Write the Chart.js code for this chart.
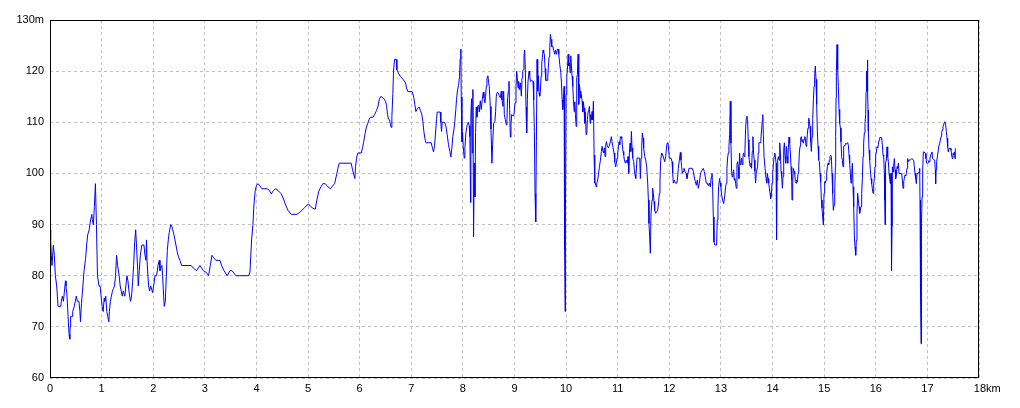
<!DOCTYPE html>
<html>
<head>
<meta charset="utf-8">
<script src="https://cdn.jsdelivr.net/npm/chart.js@4/dist/chart.umd.min.js"></script>
<style>
html,body{margin:0;padding:0;background:#fff;}
#wrap{width:1020px;height:408px;}
</style>
</head>
<body>
<div id="wrap"><canvas id="c" width="1020" height="408"></canvas></div>
<script>
// distance along route (km)
const distKm = [
0,0.013,0.026,0.039,0.065,0.084,0.104,0.13,0.143,0.156,0.208,0.22,0.24,0.26,0.28,0.30,0.31,0.33,0.35,0.37,0.383,0.39,0.40,0.43,0.44,0.47,0.51,0.53,0.56,0.58,0.59,0.61,0.63,0.66,0.69,0.71,0.73,0.76,0.78,0.81,0.82,0.84,0.86,0.88,0.90,0.92,0.95,0.97,0.99,1.01,1.03,1.05,1.06,1.08,1.10,1.12,1.14,1.15,1.17,1.19,1.21,1.23,1.25,1.27,1.29,1.31,1.34,1.36,1.38,1.40,1.42,1.45,1.47,1.49,1.51,1.53,1.56,1.58,1.60,1.62,1.64,1.66,1.68,1.70,1.71,1.73,1.75,1.78,1.82,1.84,1.86,1.87,1.88,1.91,1.93,1.95,
1.969,1.988,2.014,2.034,2.066,2.092,2.118,2.131,2.150,2.169,2.182,2.202,2.214,2.234,2.253,2.273,2.292,2.311,2.337,2.357,2.376,2.402,2.421,2.440,2.466,2.492,2.518,2.550,2.737,2.776,2.841,2.905,2.970,3.034,3.073,3.105,3.138,3.164,3.215,3.293,3.325,3.370,3.435,3.486,3.525,3.564,3.602,3.848,3.874,3.887,3.906,
3.932,3.951,3.977,4.003,4.029,4.055,4.106,4.209,4.248,4.287,4.332,4.377,4.416,4.481,4.526,4.558,4.610,4.674,4.784,4.829,4.881,4.933,4.978,5.010,5.042,5.094,5.139,5.171,5.204,5.249,5.288,5.333,5.384,5.430,5.514,5.559,5.578,5.604,5.836,5.862,5.888,5.907,
5.920,5.940,5.965,6.030,6.056,6.075,6.101,6.127,6.153,6.185,6.211,6.262,6.288,6.327,6.353,6.379,6.404,6.443,6.469,6.501,6.521,6.540,6.559,6.579,6.598,6.611,6.624,6.643,6.656,6.676,6.708,6.721,6.747,6.792,6.843,6.889,6.908,6.934,7.018,7.050,7.069,7.089,7.115,7.153,7.179,7.205,7.224,7.244,7.263,7.282,7.386,7.412,7.431,7.450,7.470,7.489,7.502,7.560,7.573,7.586,7.599,7.644,7.670,7.696,7.721,7.747,7.767,7.786,7.805,7.825,7.844,7.863,7.876,
7.896,7.916,7.935,7.948,7.961,7.968,7.981,7.994,8.006,8.026,8.039,8.058,8.084,8.104,8.123,8.136,8.149,8.155,8.168,8.181,8.194,8.207,8.220,8.233,8.246,8.259,8.272,8.285,8.304,8.317,8.337,8.356,8.375,8.395,8.408,8.427,8.440,8.453,8.466,8.485,8.498,8.511,8.531,8.544,8.563,8.576,8.595,8.621,8.634,8.647,8.667,8.686,8.706,8.725,8.744,8.757,8.777,8.790,8.803,8.822,8.841,8.854,8.867,8.880,8.893,8.906,8.919,8.932,8.945,8.971,8.990,9.010,9.029,9.042,9.055,9.068,9.081,9.094,9.113,9.133,9.146,9.159,9.172,9.184,9.197,9.210,9.223,9.236,9.249,9.262,9.282,9.294,9.307,9.333,9.359,9.372,9.385,9.398,9.411,9.424,9.437,9.450,9.463,9.476,9.489,9.502,9.515,9.528,9.540,9.553,9.566,9.579,9.592,9.605,9.631,9.644,9.657,9.670,9.683,9.696,9.709,9.722,9.741,9.761,9.780,9.793,9.812,9.832,9.845,
9.858,9.877,9.897,9.910,9.923,9.935,9.948,9.961,9.968,9.974,9.981,9.987,10.0,10.013,10.026,10.039,10.052,10.065,10.077,10.090,10.103,10.116,10.129,10.142,10.155,10.168,10.181,10.194,10.206,10.219,10.232,10.245,10.258,10.271,10.284,10.297,10.310,10.323,10.335,10.348,10.361,10.374,10.387,10.400,10.413,10.426,10.439,10.452,10.465,10.477,10.490,10.503,10.516,10.529,10.542,10.555,10.568,10.581,10.594,10.606,10.626,10.645,10.665,10.684,10.697,10.716,10.729,10.742,10.755,10.768,10.781,10.800,10.819,10.839,10.858,10.877,10.890,10.910,10.929,10.942,10.961,10.974,10.987,11.000,11.013,11.026,11.039,11.052,11.065,11.077,11.090,11.103,11.116,11.129,11.148,11.168,11.187,11.200,11.213,11.226,11.239,11.252,11.265,11.277,11.290,11.310,11.323,11.335,11.348,11.361,11.374,11.426,11.439,11.452,11.465,11.477,11.490,11.503,11.523,11.542,11.561,11.581,11.594,11.606,11.619,11.632,11.645,11.665,11.677,11.690,11.703,11.716,11.735,11.755,11.774,11.794,11.806,11.819,
11.832,11.852,11.871,11.890,11.910,11.929,11.942,11.955,11.974,11.987,12.0,12.032,12.052,12.065,12.077,12.097,12.116,12.148,12.161,12.174,12.194,12.213,12.226,12.239,12.252,12.265,12.284,12.303,12.323,12.342,12.361,12.381,12.445,12.465,12.484,12.503,12.523,12.542,12.561,12.581,12.600,12.619,12.639,12.658,12.677,12.697,12.716,12.735,12.755,12.774,12.794,12.813,12.826,12.839,12.852,12.865,12.884,12.916,12.929,12.942,12.955,12.974,12.987,13.0,13.013,13.032,13.052,13.071,13.090,13.103,13.116,13.129,13.142,13.155,13.168,13.181,13.194,13.206,13.219,13.232,13.245,13.258,13.271,13.284,13.297,13.310,13.323,13.335,13.348,13.361,13.374,13.387,13.400,13.413,13.426,13.439,13.452,13.465,13.477,13.490,13.503,13.516,13.529,13.542,13.555,13.568,13.581,13.594,13.606,13.619,13.632,13.645,13.658,13.671,13.684,13.697,13.710,13.723,13.735,13.761,13.774,13.787,13.800,13.810,
13.822,13.835,13.855,13.874,13.887,13.900,13.913,13.926,13.938,13.951,13.964,13.977,13.990,14.003,14.016,14.029,14.042,14.055,14.068,14.074,14.081,14.087,14.100,14.113,14.126,14.139,14.152,14.164,14.177,14.190,14.203,14.216,14.229,14.242,14.255,14.268,14.281,14.294,14.306,14.319,14.332,14.345,14.358,14.371,14.377,14.390,14.403,14.416,14.429,14.442,14.455,14.468,14.481,14.494,14.507,14.519,14.532,14.545,14.558,14.571,14.584,14.597,14.610,14.623,14.636,14.649,14.662,14.674,14.687,14.700,14.713,14.726,14.739,14.752,14.765,14.778,14.791,14.804,14.816,14.829,14.842,14.855,14.868,14.881,14.894,14.907,14.920,14.933,14.946,14.958,14.971,14.984,14.997,15.010,15.023,15.036,15.049,15.062,15.075,15.088,15.101,15.113,15.126,15.139,15.152,15.165,15.178,15.191,15.204,15.217,15.223,15.230,15.236,15.249,15.262,15.275,15.288,15.301,15.314,15.326,15.339,15.352,15.365,15.378,15.391,15.404,15.417,15.430,15.443,15.456,15.469,15.482,15.494,15.507,15.520,15.533,15.546,15.559,15.572,15.585,15.598,15.611,15.623,15.636,15.649,15.662,15.675,15.688,15.701,15.714,15.727,15.740,15.753,15.765,15.778,15.791,15.804,
15.812,15.820,15.830,15.838,15.845,15.850,15.856,15.869,15.882,15.895,15.908,15.921,15.934,15.947,15.960,15.972,15.985,15.998,16.011,16.024,16.037,16.050,16.063,16.076,16.114,16.127,16.140,16.153,16.166,16.173,16.179,16.186,16.192,16.205,16.218,16.231,16.244,16.257,16.270,16.282,16.295,16.302,16.308,16.315,16.321,16.334,16.347,16.360,16.373,16.386,16.399,16.412,16.425,16.438,16.451,16.502,16.515,16.528,16.541,16.554,16.567,16.580,16.592,16.605,16.618,16.631,16.644,16.670,16.696,16.734,16.747,16.760,16.773,16.786,16.799,16.825,16.838,16.851,16.857,16.864,16.870,16.877,16.883,16.890,16.896,16.909,16.922,16.935,16.948,16.960,16.973,16.986,16.999,17.012,17.025,17.038,17.050,17.063,17.076,17.089,17.102,17.141,17.154,17.160,17.167,17.173,17.186,17.199,17.212,17.225,17.238,17.251,17.264,17.277,17.290,17.302,17.315,17.328,17.341,17.354,17.367,17.380,17.393,17.406,17.419,17.444,17.457,17.470,17.483,17.496,17.509,17.522,17.535,17.541
];
// elevation (m)
const elevM = [
89,87,84,82,86,84,80,78,76,74,74,75,76,75,77,79,78,76,72,68.5,67.6,70,72,72,73,74,76,75,75,73,71,74.6,77,81,83.4,86,88,89,90.5,92,91,90,93.5,98,90,80,78,78,76,74,73,75.6,75,76,73,72,71,73,75,76,77,77.5,78,80,84,82,80,78,77,76,77,76,78,80,79,77,75,76,78.6,82,86.5,89,85,81,78,81,84,86,86,84,83,87,83,78,77,78,
77.4,76.7,78.4,80,80,82,83,81,81.6,82,80,76,74,75,79.7,85,87,88.5,90,89.8,89,88,87,86,84.6,83.6,83,82,82,81.5,81,82,81,80.6,80,82,84,83.6,83,83,82,81,80,81,81,80.5,80,80,80.7,83.3,87,
90,93.8,96.7,97.7,98,97.7,97,97,96.7,96,96.7,97,96.7,96,95,94,92.8,92,92,92.3,92.8,93.3,93.8,94,93.6,93.2,93,94.8,96.4,97.4,98,98,97.4,97,98,100,101,102,102,100.7,99.7,99,
101.3,103,104,104,105,106,107.6,108.9,109.7,110.6,111,111,111.5,112.3,113,114.4,115,114.9,114.6,114.1,113.3,111.5,110.6,110.5,109.5,109,111,115.6,120,122.3,122.3,120.3,119.7,118.9,118.4,117.7,116.7,116,116,114.8,113.5,112.1,112.6,113,112.3,111.5,110.2,108.2,106.9,106,106,104.9,104.2,105.3,107.9,110.5,112,112,110,108.2,110,110,109.3,107.6,105.6,104.3,103.2,105,107.2,108.5,110.2,112.5,114.4,
116.3,117.2,119,122.4,124.3,115,106.2,108,105.3,103,105,107.9,109.5,110,109.3,107.2,94.3,111.5,114.6,104,116.4,87.6,102,95.4,108,113,111,113.1,113.4,112,114.2,112.5,114.4,115.9,114.8,113.8,115,117,118.5,119.1,117.8,117,113.1,108.7,102,105.6,109.8,110.2,112.1,115.1,115.9,115.7,115.2,114.8,116.1,114.4,113.1,116.1,111.5,110.5,109.5,110.5,114.8,116.1,118,112.5,107.1,109.5,111.5,111.3,111.5,113.8,117,120,118.7,116.7,118,116.4,117.7,115.1,118.7,120,120.3,123,124.1,120.3,113,107.9,114.4,118,120,119.3,118,118.2,118,114.4,108.2,96.1,90.5,106.2,122.3,116.1,119.1,115.7,115.1,116.1,119,121.6,122.6,124.1,123.6,123.3,120.5,118.2,118.2,118.7,121,122.8,124.6,127.2,126.2,124.8,124.8,124,123.3,124.1,123.3,124.3,124.3,
123.3,121.3,119.7,117.7,114.4,112.5,114.4,117,94.8,85,73,92.5,115.4,119,120.3,123.3,121,121.6,119.7,123,121,119,117,114.4,112.1,114,111.5,109.2,118.7,119.3,123.3,113.5,117.4,116.1,114.8,115.4,114.1,112,114,112.8,109.8,112,107.6,107.9,110.5,112.1,112.5,113.1,109.8,111.5,110.5,112.1,110.5,114.1,103.6,98.1,98.1,97.4,98.1,98.4,99.7,101.3,102.6,104.3,105.3,104.3,104,105,103.3,105.6,106.2,105.3,105,105.5,106.2,107.2,106.2,105,104,102.3,101.3,102,103,104,105,106.2,105.6,107.2,106.9,107.2,105.6,104.3,103.6,102.6,102,102.6,102,103.3,100,104,105.9,104.3,108.2,105,103,102.3,100.7,99.7,99,100.7,103,103,99,103,105.3,107.9,106.9,105,103.3,102.6,101.3,98.1,94.8,90.2,87.6,84.4,92.2,94.8,97.1,96.1,94.5,92.8,92.2,92.5,92.8,94.5,96.1,98.7,
102.6,104,103.6,103,102.3,103.3,104.6,105.9,106,104.6,103,103,102.3,100,98.1,98.7,98.1,98.1,99.3,101,102.6,104.1,102.6,101.3,100,100.4,101,100.4,100,99,100,101,101,100.4,99.3,98.4,97.7,98.7,97.1,98.1,99.7,100.4,100.7,101,100.4,99.3,98.1,98.1,97.6,98.1,97.4,99.3,100,97.4,91.5,86.6,86,86,90.9,93.5,97.4,99,98.1,97.4,95.8,94.8,94.1,95.4,97.4,98.1,101,103,104,105.3,107.6,114.1,105.9,100.4,99.3,100,100.7,98.7,99,98.1,97.1,101.7,102.3,101.3,99,104,101.7,102,103,101.7,103.3,104,103.3,104.6,108.5,110.8,111.2,110.5,106.6,103.3,102,101.3,102,101,104.3,107.2,104,102.6,100.4,98.1,100,100,101.3,104,106,106,106.9,108.5,110.2,111.5,
107.6,103.3,101,99,98.1,100,99,98.1,97.1,96.1,95.1,95.8,98.1,100,101.7,103.3,104,103.3,102,95.4,87,98.7,102.6,103.3,102.6,106,104,100.4,99.4,97.1,99.4,104.6,106,103.3,102,105.3,103.3,102,105,107.1,105.9,104,101.3,98.7,94.8,98.1,101,100.4,100,98.4,98.1,98.7,98.4,100,101.3,104,105.3,106.9,107.2,106.2,106.6,105.9,106.7,107.2,106.9,105.3,105.9,107.6,108.9,110.8,110.2,109.2,106.2,104.3,107.2,110.5,114.4,117,119,121,118.4,113.5,108.2,105.3,102.6,102.3,100,98.4,94.8,93.2,91.5,89.9,96.1,98.4,98.1,98.7,100,101.3,102,101.7,102.6,103.3,103.6,103.3,100,96.1,92.8,93.8,96.1,101.3,107.2,114.8,119.7,125.2,120.3,117,112.5,109.8,108.9,106.2,103.3,102.6,101.3,105.3,105.3,105.6,105.9,105.8,105.9,106,105.5,103.6,102,100,98.1,100,102,97.4,93.5,87.9,85.6,84,86.9,92.2,96.1,94.8,93.5,92.2,92.8,93.5,96.1,99,103.3,105.9,107.9,109.8,111.5,
116,120,120,122.2,116,112.4,108.2,104.6,102.6,100.7,99,98,97,96.1,98,99,101.3,103.6,104.2,105.2,105,105.6,106.5,107,107,105.6,103.6,103.3,100,94.8,90,94.8,102,102.6,105.2,103.3,102.3,100,99,98,100,90.5,81,89.7,101.3,100.3,101.6,102.9,100.7,99,99.7,101.3,101,102,100,100,98.7,97.1,98.4,99,99.7,99.5,100,101,102.9,102.3,102.6,102.6,102.9,102.6,101.3,100,99,98,100,100,100.3,101,94.8,84,75.8,66.7,88.2,90.2,95.4,100.7,104.2,104.2,104.1,103.9,102.9,102,102,102.1,102.5,102.3,102.9,103.6,103.9,104.2,102.9,102.6,100.7,98,100.7,101,102.3,103.6,104.6,105.6,105.9,106.5,107.2,108,108.5,109.2,109.5,110,110.1,109.5,108.2,106.9,105.2,104.2,104.9,104.9,104.6,103.6,102.9,103.9,103.6,104.2,102.9,104.9
];
// axis ticks
const xTicksKm = [0,1,2,3,4,5,6,7,8,9,10,11,12,13,14,15,16,17,18];
const yTicksM = [60,70,80,90,100,110,120,130];
const xUnit = 'km';
const yUnit = 'm';

const points = distKm.map((d, i) => ({x: d, y: elevM[i]}));
const tickFont = {family: '"Liberation Sans", Arial, sans-serif', size: 11};

const framePlugin = {
  id: 'frame',
  afterDraw(chart) {
    const a = chart.chartArea, ctx = chart.ctx;
    ctx.save();
    ctx.strokeStyle = '#000';
    ctx.lineWidth = 1;
    ctx.setLineDash([]);
    ctx.strokeRect(Math.round(a.left) + 0.5, Math.round(a.top) + 0.5,
                   Math.round(a.right - a.left) - 1, Math.round(a.bottom - a.top) - 1);
    ctx.restore();
  }
};

new Chart(document.getElementById('c'), {
  type: 'line',
  data: {
    datasets: [{
      data: points,
      borderColor: '#0000ff',
      borderWidth: 1,
      pointRadius: 0,
      tension: 0,
      fill: false
    }]
  },
  options: {
    responsive: false,
    animation: false,
    devicePixelRatio: 1,
    parsing: false,
    normalized: true,
    layout: {padding: {top: 20, right: 41, left: 0, bottom: 0}},
    plugins: {legend: {display: false}, tooltip: {enabled: false}},
    scales: {
      x: {
        type: 'linear',
        min: xTicksKm[0],
        max: xTicksKm[xTicksKm.length - 1],
        afterFit(s) { s.height = 30; },
        afterBuildTicks(s) { s.ticks = xTicksKm.map(v => ({value: v})); },
        ticks: {
          autoSkip: false,
          maxRotation: 0,
          padding: 4,
          color: '#000',
          font: tickFont,
          callback: (v) => v === xTicksKm[xTicksKm.length - 1] ? '\u2002\u2002\u2002' + v + xUnit : String(v)
        },
        grid: {color: '#c0c0c0', drawTicks: false, tickLength: 0},
        border: {display: false, dash: [3, 3]}
      },
      y: {
        type: 'linear',
        min: yTicksM[0],
        max: yTicksM[yTicksM.length - 1],
        afterFit(s) { s.width = 50; },
        afterBuildTicks(s) { s.ticks = yTicksM.map(v => ({value: v})); },
        ticks: {
          autoSkip: false,
          padding: 6,
          color: '#000',
          font: tickFont,
          callback: (v) => v === yTicksM[yTicksM.length - 1] ? v + yUnit : String(v)
        },
        grid: {color: '#c0c0c0', drawTicks: false, tickLength: 0},
        border: {display: false, dash: [3, 3]}
      }
    }
  },
  plugins: [framePlugin]
});
</script>
</body>
</html>
